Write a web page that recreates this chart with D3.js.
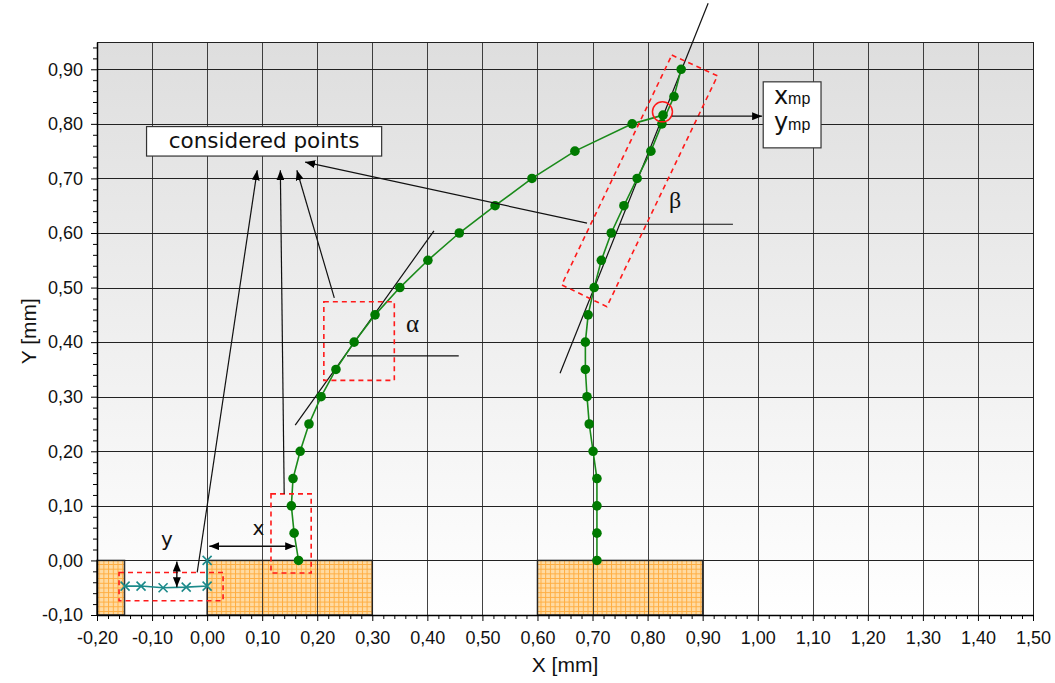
<!DOCTYPE html>
<html><head><meta charset="utf-8">
<script src="https://cdn.jsdelivr.net/npm/d3@7"></script>
<style>body{margin:0;background:#fff}</style>
</head><body>
<svg id="chart" width="1055" height="683"></svg>
<script>
// Tip trajectory, left specimen (last point is the meeting point)
const leftX = [0.166, 0.158, 0.153, 0.156, 0.169, 0.185, 0.207, 0.234, 0.267, 0.305, 0.350, 0.401, 0.458, 0.523, 0.590, 0.668, 0.772, 0.828];
const leftY = [0.00, 0.05, 0.10, 0.15, 0.20, 0.25, 0.30, 0.35, 0.40, 0.45, 0.50, 0.55, 0.60, 0.65, 0.70, 0.75, 0.80, 0.816];
// Tip trajectory, right specimen
const rightX = [0.708, 0.708, 0.708, 0.708, 0.701, 0.694, 0.690, 0.687, 0.687, 0.692, 0.703, 0.716, 0.734, 0.757, 0.781, 0.806, 0.826, 0.848, 0.861];
const rightY = [0.00, 0.05, 0.10, 0.15, 0.20, 0.25, 0.30, 0.35, 0.40, 0.45, 0.50, 0.55, 0.60, 0.65, 0.70, 0.75, 0.80, 0.85, 0.90];
// Base displacement (crosses)
const baseX = [-0.149, -0.120, -0.080, -0.038, 0.000, 0.000];
const baseY = [-0.047, -0.047, -0.050, -0.049, -0.047, 0.000];
// Supports (hatched blocks): [x0, x1, y0, y1]
const supports = [[-0.20, -0.15, -0.10, 0.00], [0.00, 0.30, -0.10, 0.00], [0.60, 0.90, -0.10, 0.00]];
// Tick labels
const xTicks = [-0.20, -0.10, 0.00, 0.10, 0.20, 0.30, 0.40, 0.50, 0.60, 0.70, 0.80, 0.90, 1.00, 1.10, 1.20, 1.30, 1.40, 1.50];
const yTicks = [-0.10, 0.00, 0.10, 0.20, 0.30, 0.40, 0.50, 0.60, 0.70, 0.80, 0.90];

// Annotation geometry in data units
const dashedBoxes = [[-0.160, 0.029, -0.074, -0.022], [0.116, 0.189, -0.023, 0.122], [0.212, 0.340, 0.330, 0.474]];
const betaBox = [[0.844, 0.926], [0.927, 0.888], [0.726, 0.465], [0.644, 0.505]];
const tangents = [[0.160, 0.248, 0.412, 0.604], [0.254, 0.375, 0.457, 0.375], [0.910, 1.021, 0.641, 0.343], [0.750, 0.616, 0.955, 0.616]];
const pointerArrows = [[-0.018, -0.022, 0.091, 0.715], [0.140, 0.122, 0.133, 0.715], [0.231, 0.481, 0.163, 0.715], [0.690, 0.618, 0.178, 0.730], [0.844, 0.814, 1.008, 0.814]];
const doubleArrows = [[0.004, 0.026, 0.160, 0.026], [-0.055, -0.002, -0.055, -0.049]];
const meetPoint = [0.827, 0.822];

const svg = d3.select("#chart");
const L = 97, R = 1033, T = 42, B = 615;
const x = d3.scaleLinear().domain([-0.20, 1.50]).range([L, R]);
const y = d3.scaleLinear().domain([-0.10, 0.95]).range([B, T]);
const fmt = v => (v < -1e-9 ? "-" : "") + Math.abs(v).toFixed(2).replace(".", ",");
const SANS = "'Liberation Sans', Arial, sans-serif";
const VERD = "'DejaVu Sans', Verdana, sans-serif";
const SERIF = "'Liberation Serif', 'DejaVu Serif', serif";

const defs = svg.append("defs");
const grad = defs.append("linearGradient").attr("id", "bg").attr("x1", 0).attr("y1", 0).attr("x2", 0).attr("y2", 1);
grad.append("stop").attr("offset", "0").attr("stop-color", "#dedede");
grad.append("stop").attr("offset", "1").attr("stop-color", "#ffffff");
const pat = defs.append("pattern").attr("id", "hatch").attr("patternUnits", "userSpaceOnUse").attr("width", 4.7).attr("height", 4.7);
pat.append("rect").attr("width", 4.7).attr("height", 4.7).attr("fill", "#ffdba3");
pat.append("path").attr("d", "M0,0.5H4.7M0.5,0V4.7").attr("stroke", "#ffad40").attr("stroke-width", 1);
defs.append("marker").attr("id", "arr").attr("markerUnits", "userSpaceOnUse")
  .attr("viewBox", "0 0 10 8").attr("markerWidth", 10).attr("markerHeight", 8)
  .attr("refX", 10).attr("refY", 4).attr("orient", "auto-start-reverse")
  .append("path").attr("d", "M0,0L10,4L0,8z").attr("fill", "#000");

// plot background
svg.append("rect").attr("x", L).attr("y", T).attr("width", R - L).attr("height", B - T).attr("fill", "url(#bg)");

// supports
svg.append("g").selectAll("rect").data(supports).join("rect")
  .attr("x", d => x(d[0])).attr("y", d => y(d[3]))
  .attr("width", d => x(d[1]) - x(d[0])).attr("height", d => y(d[2]) - y(d[3]))
  .attr("fill", "url(#hatch)").attr("stroke", "#333").attr("stroke-width", 1.5);

// grid
const grid = svg.append("g").attr("stroke", "#222").attr("stroke-width", 1).attr("shape-rendering", "crispEdges");
grid.selectAll("line.v").data(xTicks.slice(1, -1)).join("line").attr("class", "v")
  .attr("x1", d => Math.round(x(d)) + 0.5).attr("x2", d => Math.round(x(d)) + 0.5).attr("y1", T).attr("y2", B)
  .attr("stroke-opacity", 0.85);
grid.selectAll("line.h").data(yTicks.slice(1).concat([0.95])).join("line").attr("class", "h")
  .attr("x1", L).attr("x2", R).attr("y1", d => Math.round(y(d)) + 0.5).attr("y2", d => Math.round(y(d)) + 0.5);
grid.append("line").attr("x1", R).attr("x2", R).attr("y1", T).attr("y2", B);

// axes
const minorX = d3.range(-0.20, 1.5001, 0.02).filter(v => Math.abs(Math.round(v * 10) - v * 10) > 1e-6);
const minorY = d3.range(-0.10, 0.9501, 0.02).filter(v => Math.abs(Math.round(v * 10) - v * 10) > 1e-6);
svg.append("g").attr("transform", `translate(0,${B})`)
  .call(d3.axisBottom(x).tickValues(xTicks).tickFormat(fmt).tickSize(6).tickPadding(10).tickSizeOuter(0));
svg.append("g").attr("transform", `translate(0,${B})`)
  .call(d3.axisBottom(x).tickValues(minorX).tickFormat("").tickSize(4).tickSizeOuter(0))
  .select(".domain").remove();
svg.append("g").attr("transform", `translate(${L},0)`)
  .call(d3.axisLeft(y).tickValues(yTicks).tickFormat(fmt).tickSize(6).tickPadding(8).tickSizeOuter(0));
svg.append("g").attr("transform", `translate(${L},0)`)
  .call(d3.axisLeft(y).tickValues(minorY).tickFormat("").tickSize(4).tickSizeOuter(0))
  .select(".domain").remove();
svg.selectAll(".tick text").attr("font-family", SANS).attr("font-size", 18).attr("fill", "#111");
svg.selectAll(".domain").attr("stroke", "#000").attr("stroke-width", 1.5);
svg.selectAll(".tick line").attr("stroke", "#000");

svg.append("text").attr("x", x(0.65)).attr("y", 672).attr("text-anchor", "middle")
  .attr("font-family", SANS).attr("font-size", 21).attr("fill", "#111").text("X [mm]");
svg.append("text").attr("transform", `translate(36,${y(0.42)}) rotate(-90)`).attr("text-anchor", "middle")
  .attr("font-family", SANS).attr("font-size", 21).attr("fill", "#111").text("Y [mm]");

// tangents
svg.append("g").attr("stroke", "#111").attr("stroke-width", 1.2).selectAll("line").data(tangents).join("line")
  .attr("x1", d => x(d[0])).attr("y1", d => y(d[1])).attr("x2", d => x(d[2])).attr("y2", d => y(d[3]));

// series
const line = d3.line().x(d => x(d[0])).y(d => y(d[1]));
const left = leftX.map((v, i) => [v, leftY[i]]);
const right = rightX.map((v, i) => [v, rightY[i]]);
const base = baseX.map((v, i) => [v, baseY[i]]);
svg.append("path").datum(left).attr("d", line).attr("fill", "none").attr("stroke", "#1a8a1a").attr("stroke-width", 1.6);
svg.append("path").datum(right).attr("d", line).attr("fill", "none").attr("stroke", "#1a8a1a").attr("stroke-width", 1.6);
svg.append("g").selectAll("circle").data(left.concat(right)).join("circle")
  .attr("cx", d => x(d[0])).attr("cy", d => y(d[1])).attr("r", 4.8).attr("fill", "#007a00");
svg.append("path").datum(base).attr("d", line).attr("fill", "none").attr("stroke", "#1b8a8a").attr("stroke-width", 1.6);
svg.append("g").selectAll("path").data(base).join("path")
  .attr("d", d => { const cx = x(d[0]), cy = y(d[1]), s = 4.5; return `M${cx - s},${cy - s}L${cx + s},${cy + s}M${cx - s},${cy + s}L${cx + s},${cy - s}`; })
  .attr("stroke", "#1b8a8a").attr("stroke-width", 1.6).attr("fill", "none");

// dashed selection boxes
const dashed = svg.append("g").attr("fill", "none").attr("stroke", "#ff1a1a").attr("stroke-width", 1.6).attr("stroke-dasharray", "5,4");
dashed.selectAll("rect").data(dashedBoxes).join("rect")
  .attr("x", d => x(d[0])).attr("y", d => y(d[3])).attr("width", d => x(d[1]) - x(d[0])).attr("height", d => y(d[2]) - y(d[3]));
dashed.append("path").attr("d", "M" + betaBox.map(p => x(p[0]) + "," + y(p[1])).join("L") + "Z");
svg.append("circle").attr("cx", x(meetPoint[0])).attr("cy", y(meetPoint[1])).attr("r", 10)
  .attr("fill", "none").attr("stroke", "#ff1a1a").attr("stroke-width", 1.5);

// arrows
svg.append("g").attr("stroke", "#111").attr("stroke-width", 1.2).selectAll("line").data(pointerArrows).join("line")
  .attr("x1", d => x(d[0])).attr("y1", d => y(d[1])).attr("x2", d => x(d[2])).attr("y2", d => y(d[3]))
  .attr("marker-end", "url(#arr)");
svg.append("g").attr("stroke", "#111").attr("stroke-width", 1.4).selectAll("line").data(doubleArrows).join("line")
  .attr("x1", d => x(d[0])).attr("y1", d => y(d[1])).attr("x2", d => x(d[2])).attr("y2", d => y(d[3]))
  .attr("marker-end", "url(#arr)").attr("marker-start", "url(#arr)");

// labels
const note = (xv, yv, txt, size, family) => svg.append("text").attr("x", x(xv)).attr("y", y(yv)).attr("text-anchor", "middle")
  .attr("font-family", family).attr("font-size", size).attr("fill", "#111").text(txt);
note(0.093, 0.047, "x", 20, VERD);
note(-0.073, 0.026, "y", 20, VERD);
note(0.373, 0.418, "α", 25, SERIF);
note(0.850, 0.646, "β", 24, SERIF);

// "considered points" box
svg.append("rect").attr("x", x(-0.110)).attr("y", y(0.795)).attr("width", x(0.317) - x(-0.110)).attr("height", y(0.741) - y(0.795))
  .attr("fill", "#fff").attr("stroke", "#333").attr("stroke-width", 1.2);
svg.append("text").attr("x", x(0.1035)).attr("y", y(0.768) + 7).attr("text-anchor", "middle")
  .attr("font-family", VERD).attr("font-size", 21.5).attr("fill", "#111").text("considered points");

// meeting point box
svg.append("rect").attr("x", x(1.010)).attr("y", y(0.877)).attr("width", x(1.115) - x(1.010)).attr("height", y(0.756) - y(0.877))
  .attr("fill", "#fff").attr("stroke", "#333").attr("stroke-width", 1.2);
const t1 = svg.append("text").attr("x", x(1.0625)).attr("y", y(0.877) + 22).attr("text-anchor", "middle").attr("fill", "#111");
t1.append("tspan").attr("font-family", VERD).attr("font-size", 24).text("x");
t1.append("tspan").attr("font-family", SANS).attr("font-size", 16).text("mp");
const t2 = svg.append("text").attr("x", x(1.0625)).attr("y", y(0.877) + 48).attr("text-anchor", "middle").attr("fill", "#111");
t2.append("tspan").attr("font-family", VERD).attr("font-size", 24).text("y");
t2.append("tspan").attr("font-family", SANS).attr("font-size", 16).text("mp");
</script>
</body></html>
